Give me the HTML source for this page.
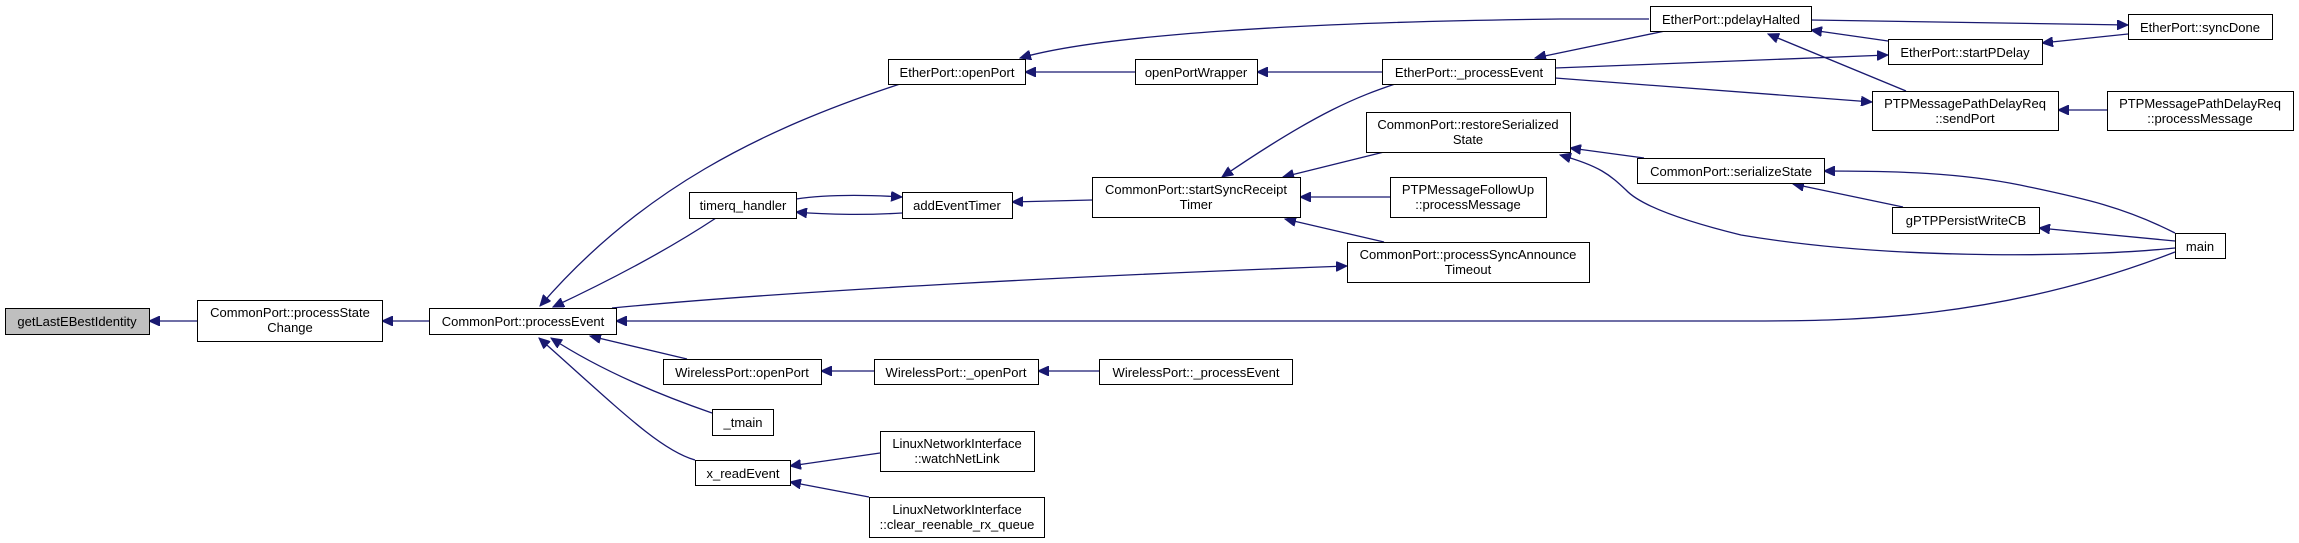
<!DOCTYPE html>
<html><head><meta charset="utf-8"><style>
html,body{margin:0;padding:0;background:#fff;}
svg{display:block;}
text{font-family:"Liberation Sans",sans-serif;font-size:13px;fill:#000;}
</style></head><body>
<svg width="2299" height="543" viewBox="0 0 2299 543" xmlns="http://www.w3.org/2000/svg">
<defs>
<marker id="a" markerWidth="12" markerHeight="10" refX="11" refY="5" orient="auto" markerUnits="userSpaceOnUse">
<path d="M0,0 L11,5 L0,10 z" fill="#191970" stroke="#191970"/>
</marker>
</defs>
<g fill="none" stroke="#191970" stroke-width="1.3" marker-end="url(#a)">
<path d="M197,321 L149,321"/>
<path d="M429,321 L382,321"/>
<path d="M900,84 C760,130 640,190 540,306"/>
<path d="M716,218 C660,255 600,285 553,307"/>
<path d="M612,308 C800,290 1100,275 1347,266"/>
<path d="M2175,252 C2000,320 1850,321 1750,321 L616,321"/>
<path d="M687,359 L590,336"/>
<path d="M712,413 C660,395 600,370 551,338"/>
<path d="M695,460 C660,450 620,410 539,338"/>
<path d="M796,199 C830,194 870,195 902,197"/>
<path d="M902,213 C870,215 830,215 796,212"/>
<path d="M1092,200 L1012,202"/>
<path d="M1383,72 L1257,72"/>
<path d="M1135,72 L1025,72"/>
<path d="M1649,19 L1560,19 C1300,22 1100,35 1020,58"/>
<path d="M1665,31 L1535,58"/>
<path d="M1555,68 L1888,55"/>
<path d="M1555,78 L1872,102"/>
<path d="M1395,84 C1360,96 1320,110 1222,177"/>
<path d="M1384,152 L1283,177"/>
<path d="M1390,197 L1300,197"/>
<path d="M1384,242 L1285,219"/>
<path d="M1811,20 L2128,25"/>
<path d="M1888,41 L1811,30"/>
<path d="M2128,34 L2042,43"/>
<path d="M1906,91 L1768,34"/>
<path d="M2107,110 L2058,110"/>
<path d="M1644,158 L1570,148"/>
<path d="M2175,248 C2100,256 1900,262 1741,235 C1680,220 1640,205 1626,190 C1610,175 1600,166 1560,155"/>
<path d="M2175,233 C2120,205 2076,197 2020,185 C1960,173 1900,171 1824,171"/>
<path d="M1903,207 L1793,184"/>
<path d="M2175,241 L2039,228"/>
<path d="M874,371 L821,371"/>
<path d="M1099,371 L1038,371"/>
<path d="M880,453 L790,466"/>
<path d="M869,497 L790,482"/>
</g>
<g stroke="#000" stroke-width="1" fill="#fff">
<rect x="5.5" y="308.5" width="144" height="26" fill="#bfbfbf"/>
<rect x="197.5" y="300.5" width="185" height="41"/>
<rect x="429.5" y="308.5" width="187" height="26"/>
<rect x="689.5" y="192.5" width="107" height="26"/>
<rect x="663.5" y="359.5" width="158" height="25"/>
<rect x="712.5" y="409.5" width="61" height="26"/>
<rect x="695.5" y="460.5" width="95" height="25"/>
<rect x="888.5" y="59.5" width="137" height="25"/>
<rect x="1135.5" y="59.5" width="122" height="25"/>
<rect x="1382.5" y="59.5" width="173" height="25"/>
<rect x="1366.5" y="112.5" width="204" height="40"/>
<rect x="902.5" y="192.5" width="110" height="26"/>
<rect x="1092.5" y="177.5" width="208" height="40"/>
<rect x="1390.5" y="177.5" width="156" height="40"/>
<rect x="1347.5" y="242.5" width="242" height="40"/>
<rect x="874.5" y="359.5" width="164" height="25"/>
<rect x="1099.5" y="359.5" width="193" height="25"/>
<rect x="880.5" y="431.5" width="154" height="40"/>
<rect x="869.5" y="497.5" width="175" height="40"/>
<rect x="1650.5" y="6.5" width="161" height="25"/>
<rect x="2128.5" y="14.5" width="144" height="25"/>
<rect x="1888.5" y="39.5" width="154" height="25"/>
<rect x="1872.5" y="91.5" width="186" height="39"/>
<rect x="2107.5" y="91.5" width="186" height="39"/>
<rect x="1637.5" y="158.5" width="187" height="25"/>
<rect x="1892.5" y="207.5" width="147" height="26"/>
<rect x="2175.5" y="233.5" width="50" height="25"/>
</g>
<g text-anchor="middle">
<text x="77" y="326">getLastEBestIdentity</text>
<text x="290" y="317">CommonPort::processState</text><text x="290" y="332">Change</text>
<text x="523" y="326">CommonPort::processEvent</text>
<text x="743" y="210">timerq_handler</text>
<text x="742" y="377">WirelessPort::openPort</text>
<text x="743" y="427">_tmain</text>
<text x="743" y="478">x_readEvent</text>
<text x="957" y="77">EtherPort::openPort</text>
<text x="1196" y="77">openPortWrapper</text>
<text x="1469" y="77">EtherPort::_processEvent</text>
<text x="1468" y="129">CommonPort::restoreSerialized</text><text x="1468" y="144">State</text>
<text x="957" y="210">addEventTimer</text>
<text x="1196" y="194">CommonPort::startSyncReceipt</text><text x="1196" y="209">Timer</text>
<text x="1468" y="194">PTPMessageFollowUp</text><text x="1468" y="209">::processMessage</text>
<text x="1468" y="259">CommonPort::processSyncAnnounce</text><text x="1468" y="274">Timeout</text>
<text x="956" y="377">WirelessPort::_openPort</text>
<text x="1196" y="377">WirelessPort::_processEvent</text>
<text x="957" y="448">LinuxNetworkInterface</text><text x="957" y="463">::watchNetLink</text>
<text x="957" y="514">LinuxNetworkInterface</text><text x="957" y="529">::clear_reenable_rx_queue</text>
<text x="1731" y="24">EtherPort::pdelayHalted</text>
<text x="2200" y="32">EtherPort::syncDone</text>
<text x="1965" y="57">EtherPort::startPDelay</text>
<text x="1965" y="108">PTPMessagePathDelayReq</text><text x="1965" y="123">::sendPort</text>
<text x="2200" y="108">PTPMessagePathDelayReq</text><text x="2200" y="123">::processMessage</text>
<text x="1731" y="176">CommonPort::serializeState</text>
<text x="1966" y="225">gPTPPersistWriteCB</text>
<text x="2200" y="251">main</text>
</g>
</svg>
</body></html>
